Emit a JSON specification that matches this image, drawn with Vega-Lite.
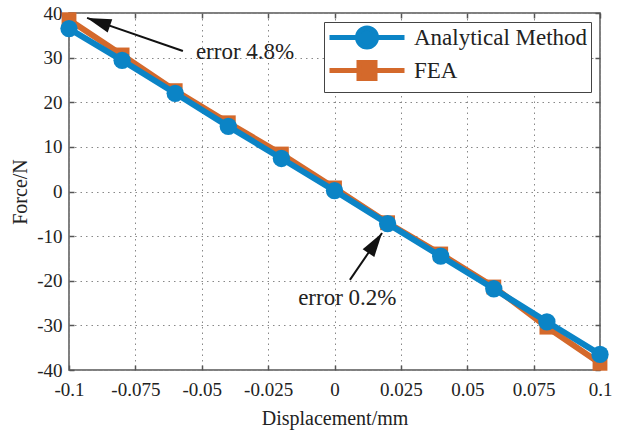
{
  "$schema": "https://vega.github.io/schema/vega-lite/v6.json",
  "width": 531,
  "height": 357,
  "autosize": {"type": "none"},
  "padding": {"left": 69, "top": 13, "right": 28, "bottom": 66},
  "background": "white",
  "config": {
    "font": "Liberation Serif",
    "view": {"stroke": "#555", "strokeWidth": 1.5},
    "axis": {
      "labelFont": "Liberation Serif",
      "titleFont": "Liberation Serif",
      "labelFontSize": 19,
      "titleFontSize": 20,
      "titleFontWeight": "normal",
      "labelColor": "#222",
      "titleColor": "#222",
      "domain": false,
      "tickColor": "#555",
      "tickWidth": 1.5,
      "tickSize": -5,
      "gridColor": "#888",
      "gridDash": [1.5, 4],
      "gridWidth": 1
    }
  },
  "resolve": {"axis": {"x": "independent", "y": "independent"}},
  "datasets": {
    "curves": [
      {"d": -0.1, "f": 36.5, "series": "Analytical Method"},
      {"d": -0.08, "f": 29.4, "series": "Analytical Method"},
      {"d": -0.06, "f": 22.0, "series": "Analytical Method"},
      {"d": -0.04, "f": 14.6, "series": "Analytical Method"},
      {"d": -0.02, "f": 7.4, "series": "Analytical Method"},
      {"d": 0.0, "f": 0.2, "series": "Analytical Method"},
      {"d": 0.02, "f": -7.2, "series": "Analytical Method"},
      {"d": 0.04, "f": -14.5, "series": "Analytical Method"},
      {"d": 0.06, "f": -21.8, "series": "Analytical Method"},
      {"d": 0.08, "f": -29.2, "series": "Analytical Method"},
      {"d": 0.1, "f": -36.5, "series": "Analytical Method"},
      {"d": -0.1, "f": 38.5, "series": "FEA"},
      {"d": -0.08, "f": 30.6, "series": "FEA"},
      {"d": -0.06, "f": 22.6, "series": "FEA"},
      {"d": -0.04, "f": 15.4, "series": "FEA"},
      {"d": -0.02, "f": 8.4, "series": "FEA"},
      {"d": 0.0, "f": 0.8, "series": "FEA"},
      {"d": 0.02, "f": -7.0, "series": "FEA"},
      {"d": 0.04, "f": -14.0, "series": "FEA"},
      {"d": 0.06, "f": -21.4, "series": "FEA"},
      {"d": 0.08, "f": -30.4, "series": "FEA"},
      {"d": 0.1, "f": -38.5, "series": "FEA"}
    ],
    "arrows": [
      {"x": -0.0571, "y": 31.5, "x2": -0.0932, "y2": 38.9, "angle": 289},
      {"x": 0.0058, "y": -19.8, "x2": 0.0179, "y2": -9.3, "angle": 34}
    ],
    "notes": [
      {"x": -0.0522, "y": 31.3, "text": "error 4.8%"},
      {"x": -0.0137, "y": -23.9, "text": "error 0.2%"}
    ]
  },
  "layer": [
    {
      "data": {"name": "curves"},
      "transform": [{"filter": "datum.series === 'FEA'"}],
      "mark": {"type": "line", "strokeWidth": 6, "clip": false},
      "encoding": {
        "x": {"field": "d", "type": "quantitative",
          "scale": {"domain": [-0.1, 0.1], "nice": false, "zero": false},
          "axis": {"orient": "bottom", "values": [-0.1, -0.075, -0.05, -0.025, 0, 0.025, 0.05, 0.075, 0.1], "labelExpr": "'' + datum.value", "labelFont": "Liberation Serif", "titleFont": "Liberation Serif", "title": "Displacement/mm", "labelPadding": 15, "titlePadding": 9, "grid": true, "labelFlush": false}},
        "y": {"field": "f", "type": "quantitative",
          "scale": {"domain": [-40, 40], "nice": false},
          "axis": {"orient": "left", "values": [-40, -30, -20, -10, 0, 10, 20, 30, 40], "labelExpr": "'' + datum.value", "labelFont": "Liberation Serif", "titleFont": "Liberation Serif", "title": "Force/N", "labelPadding": 12, "titlePadding": 6, "grid": true, "labelFlush": false}},
        "color": {"field": "series", "type": "nominal",
          "scale": {"domain": ["Analytical Method", "FEA"], "range": ["#0b84c6", "#d4692b"]},
          "legend": {
            "title": null,
            "orient": "top-right",
            "offset": 9,
            "fillColor": "white",
            "strokeColor": "#444",
            "padding": 3,
            "rowPadding": -17,
            "labelFont": "Liberation Serif",
            "labelFontSize": 23,
            "labelColor": "#222",
            "labelLimit": 400,
            "labelOffset": 62,
            "symbolSize": 400,
            "symbolStrokeWidth": 5,
            "encode": {
              "symbols": {
                "update": {
                  "shape": {"signal": "datum.value === 'FEA' ? 'M-1,0H6.5M1.95,-0.8H3.55V0.8H1.95Z' : 'M-1,0H6.5M1.8,0A0.95,0.95 0 1,0 3.7,0A0.95,0.95 0 1,0 1.8,0Z'"},
                  "fill": {"scale": "color", "field": "value"},
                  "stroke": {"scale": "color", "field": "value"},
                  "strokeWidth": {"value": 5},
                  "opacity": {"value": 1}
                }
              }
            }
          }}
      }
    },
    {
      "data": {"name": "curves"},
      "transform": [{"filter": "datum.series === 'FEA'"}],
      "mark": {"type": "point", "shape": "square", "filled": true, "size": 220, "opacity": 1, "clip": false},
      "encoding": {
        "x": {"field": "d", "type": "quantitative",
          "axis": {"orient": "top", "values": [-0.1, -0.075, -0.05, -0.025, 0, 0.025, 0.05, 0.075, 0.1], "labels": false, "title": null, "grid": false}},
        "y": {"field": "f", "type": "quantitative",
          "axis": {"orient": "right", "values": [-40, -30, -20, -10, 0, 10, 20, 30, 40], "labels": false, "title": null, "grid": false}},
        "color": {"field": "series", "type": "nominal"}
      }
    },
    {
      "data": {"name": "curves"},
      "transform": [{"filter": "datum.series === 'Analytical Method'"}],
      "mark": {"type": "line", "strokeWidth": 6, "clip": false},
      "encoding": {
        "x": {"field": "d", "type": "quantitative", "axis": null},
        "y": {"field": "f", "type": "quantitative", "axis": null},
        "color": {"field": "series", "type": "nominal"}
      }
    },
    {
      "data": {"name": "curves"},
      "transform": [{"filter": "datum.series === 'Analytical Method'"}],
      "mark": {"type": "point", "shape": "circle", "filled": true, "size": 300, "opacity": 1, "clip": false},
      "encoding": {
        "x": {"field": "d", "type": "quantitative", "axis": null},
        "y": {"field": "f", "type": "quantitative", "axis": null},
        "color": {"field": "series", "type": "nominal"}
      }
    },
    {
      "data": {"name": "arrows"},
      "mark": {"type": "rule", "color": "#111", "strokeWidth": 2},
      "encoding": {
        "x": {"field": "x", "type": "quantitative", "axis": null},
        "y": {"field": "y", "type": "quantitative", "axis": null},
        "x2": {"field": "x2"},
        "y2": {"field": "y2"}
      }
    },
    {
      "data": {"name": "arrows"},
      "mark": {"type": "point", "shape": "M0,0L0.55,1.9L-0.55,1.9Z", "filled": true, "color": "#111", "size": 650, "opacity": 1},
      "encoding": {
        "x": {"field": "x2", "type": "quantitative", "axis": null},
        "y": {"field": "y2", "type": "quantitative", "axis": null},
        "angle": {"field": "angle", "type": "quantitative", "scale": null}
      }
    },
    {
      "data": {"name": "notes"},
      "mark": {"type": "text", "align": "left", "baseline": "middle", "font": "Liberation Serif", "fontSize": 23, "color": "#222"},
      "encoding": {
        "x": {"field": "x", "type": "quantitative", "axis": null},
        "y": {"field": "y", "type": "quantitative", "axis": null},
        "text": {"field": "text"}
      }
    }
  ]
}
